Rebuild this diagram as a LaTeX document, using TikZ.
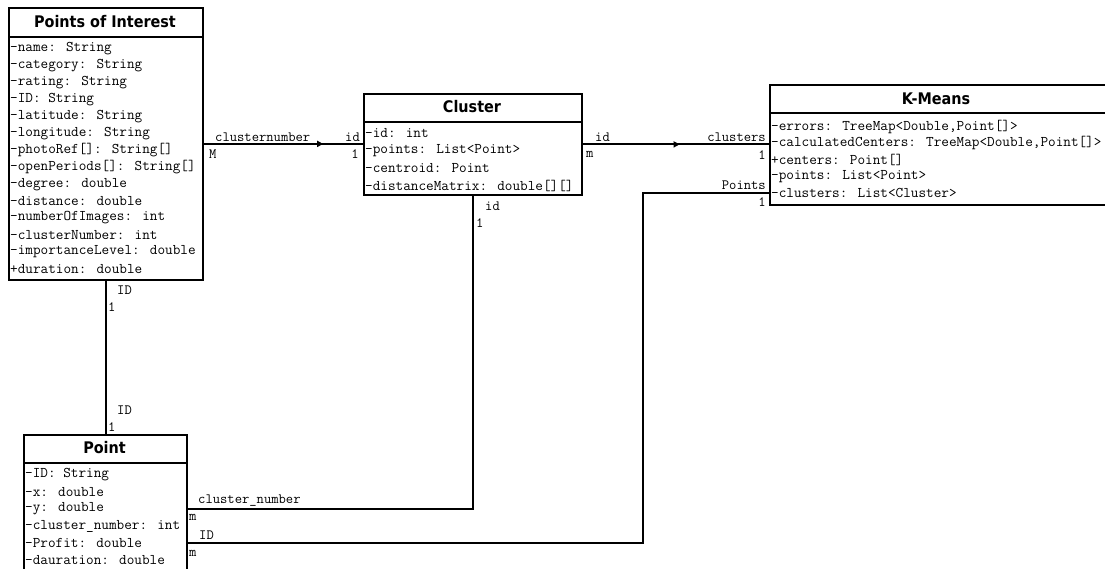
\documentclass[tikz,border=0pt]{standalone}
\usepackage{fontspec}
\newfontfamily\titlefont{DejaVu Sans Condensed}
\usetikzlibrary{arrows.meta,decorations.markings}

\newcommand{\attrfont}{\fontsize{14.8}{17}\selectfont\ttfamily}
\newcommand{\lblfont}{\fontsize{14.2}{16}\selectfont\ttfamily}

\tikzset{
  classbox/.style={draw, line width=1.8pt, fill=white, inner sep=0pt, anchor=north west},
  headline/.style={line width=1.8pt},
  classtitle/.style={inner sep=0pt, font=\titlefont\bfseries\fontsize{16}{18}\selectfont},
  attr/.style={anchor=west, inner sep=0pt, font=\attrfont},
  lbl/.style={inner sep=0pt, font=\lblfont},
  assoc/.style={line width=1.8pt},
  midarrow/.style={postaction={decorate}, decoration={markings,
      mark=at position #1 with {\arrow{Triangle[length=6pt,width=6pt]}}}}
}

\begin{document}
\begin{tikzpicture}[x=1pt,y=-1pt]
\useasboundingbox[fill=white] (0,0) rectangle (1105,569);

% ---------- Points of Interest ----------
\node[classbox, minimum width=194pt, minimum height=272pt] (poi) at (8,7) {};
\draw[headline] (8,37) -- (202,37);
\node[classtitle] (poiT) at (105,22) {Points of Interest};
\foreach \t [count=\i from 0] in {
  -name: String, -category: String, -rating: String, -ID: String,
  -latitude: String, -longitude: String, -photoRef[]: String[],
  -openPeriods[]: String[], -degree: double, -distance: double,
  -numberOfImages: int, -clusterNumber: int, -importanceLevel: double,
  +duration: double}
  \node[attr] (poi\i) at (10,49+16.9*\i) {\t};

% ---------- Cluster ----------
\node[classbox, minimum width=218pt, minimum height=101pt] (cluster) at (363,93) {};
\draw[headline] (363,122) -- (581,122);
\node[classtitle] (clT) at (472,107) {Cluster};
\node[attr] (cl0) at (365,133) {-id: int};
\node[attr] (cl1) at (365,151) {-points: List<Point>};
\node[attr] (cl2) at (365,168.5) {-centroid: Point};
\node[attr] (cl3) at (365,186) {-distanceMatrix: double[][]};

% ---------- K-Means ----------
\node[classbox, minimum width=340pt, minimum height=120pt] (kmeans) at (769,84) {};
\draw[headline] (769,113) -- (1109,113);
\node[classtitle] (kmT) at (936,99) {K-Means};
\node[attr] (km0) at (771,127) {-errors: TreeMap<Double,Point[]>};
\node[attr] (km1) at (771,143.5) {-calculatedCenters: TreeMap<Double,Point[]>};
\node[attr] (km2) at (771,160) {+centers: Point[]};
\node[attr] (km3) at (771,176.5) {-points: List<Point>};
\node[attr] (km4) at (771,193) {-clusters: List<Cluster>};

% ---------- Point ----------
\node[classbox, minimum width=163pt, minimum height=146pt] (point) at (23,434) {};
\draw[headline] (23,463) -- (186,463);
\node[classtitle] (ptT) at (104.5,448) {Point};
\node[attr] (pt0) at (25,475) {-ID: String};
\node[attr] (pt1) at (25,492) {-x: double};
\node[attr] (pt2) at (25,509) {-y: double};
\node[attr] (pt3) at (25,526) {-cluster\_number: int};
\node[attr] (pt4) at (25,543) {-Profit: double};
\node[attr] (pt5) at (25,560) {-dauration: double};

% ---------- associations ----------
\coordinate (bend) at (643,300);
\draw[assoc, midarrow=0.75] (poi.east) -- (poi.east -| cluster.west);
\draw[assoc, midarrow=0.52] (cluster.east) -- (cluster.east -| kmeans.west);
\draw[assoc] (kmeans.west |- km4) -| (bend) |- (point.east |- pt4);
\draw[assoc] (cluster.south) |- (point.east |- pt2);
\draw[assoc] (poi.south) -- (poi.south |- point.north);

% ---------- role names and multiplicities ----------
\node[lbl, anchor=west] (l1) at (215,137) {clusternumber};
\node[lbl, anchor=west] (l2) at (345,137) {id};
\node[lbl, anchor=west] (l3) at (209,154) {M};
\node[lbl, anchor=east] (l4) at (359,154) {1};

\node[lbl, anchor=west] (l5) at (595,137) {id};
\node[lbl, anchor=west] (l6) at (586,154) {m};
\node[lbl, anchor=east] (l7) at (766,137) {clusters};
\node[lbl, anchor=east] (l8) at (766,155) {1};
\node[lbl, anchor=east] (l9) at (766,185) {Points};
\node[lbl, anchor=east] (l10) at (766,202) {1};

\node[lbl, anchor=west] (l11) at (485,206) {id};
\node[lbl, anchor=west] (l12) at (476,223) {1};

\node[lbl, anchor=west] (l13) at (117,290) {ID};
\node[lbl, anchor=west] (l14) at (108,307) {1};
\node[lbl, anchor=west] (l15) at (117,410) {ID};
\node[lbl, anchor=west] (l16) at (108,427) {1};

\node[lbl, anchor=west] (l17) at (198,501) {cluster\_number};
\node[lbl, anchor=west] (l18) at (189,517) {m};
\node[lbl, anchor=west] (l19) at (199,535) {ID};
\node[lbl, anchor=west] (l20) at (189,553) {m};
\end{tikzpicture}
\end{document}
